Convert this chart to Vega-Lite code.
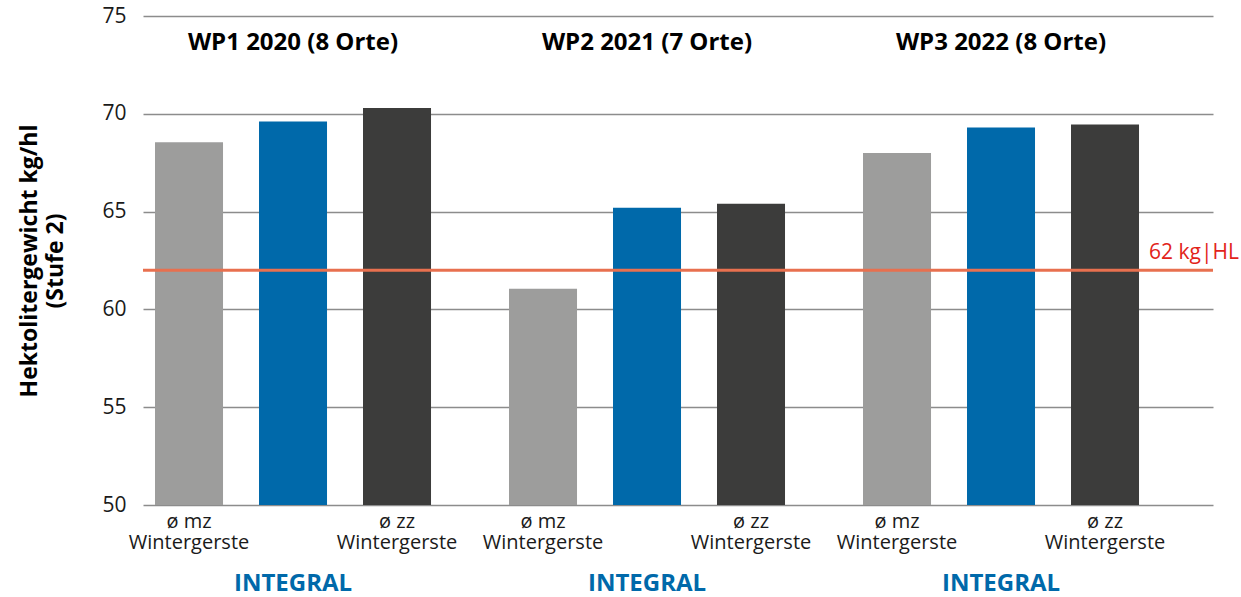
{
  "$schema": "https://vega.github.io/schema/vega-lite/v6.json",
  "width": 1070,
  "height": 489,
  "autosize": {"type": "none"},
  "padding": {"left": 143, "top": 16, "right": 28, "bottom": 92},
  "background": "white",
  "config": {
    "font": "Open Sans",
    "view": {"stroke": null}
  },
  "data": {
    "values": [
      {"group": "WP1 2020 (8 Orte)", "series": "mz", "value": 68.55, "label": "ø mz\nWintergerste"},
      {"group": "WP1 2020 (8 Orte)", "series": "INTEGRAL", "value": 69.6, "label": "INTEGRAL"},
      {"group": "WP1 2020 (8 Orte)", "series": "zz", "value": 70.3, "label": "ø zz\nWintergerste"},
      {"group": "WP2 2021 (7 Orte)", "series": "mz", "value": 61.05, "label": "ø mz\nWintergerste"},
      {"group": "WP2 2021 (7 Orte)", "series": "INTEGRAL", "value": 65.2, "label": "INTEGRAL"},
      {"group": "WP2 2021 (7 Orte)", "series": "zz", "value": 65.4, "label": "ø zz\nWintergerste"},
      {"group": "WP3 2022 (8 Orte)", "series": "mz", "value": 68.0, "label": "ø mz\nWintergerste"},
      {"group": "WP3 2022 (8 Orte)", "series": "INTEGRAL", "value": 69.3, "label": "INTEGRAL"},
      {"group": "WP3 2022 (8 Orte)", "series": "zz", "value": 69.45, "label": "ø zz\nWintergerste"}
    ]
  },
  "encoding": {
    "x": {
      "field": "group",
      "type": "nominal",
      "sort": null,
      "axis": null,
      "scale": {"paddingInner": 0, "paddingOuter": 0.0113, "align": 0}
    },
    "xOffset": {
      "field": "series",
      "type": "nominal",
      "scale": {"domain": ["mz", "INTEGRAL", "zz"], "paddingInner": 0.346, "paddingOuter": 0.375, "align": 0.154}
    }
  },
  "layer": [
    {
      "mark": {"type": "bar"},
      "encoding": {
        "y": {
          "field": "value",
          "type": "quantitative",
          "scale": {"domain": [50, 75], "zero": false, "nice": false},
          "axis": {
            "values": [50, 55, 60, 65, 70, 75],
            "title": ["Hektolitergewicht kg/hl", "(Stufe 2)"],
            "titleFont": "Open Sans",
            "titleFontSize": 23,
            "titleFontWeight": "bold",
            "titleColor": "#000000",
            "titlePadding": 34,
            "titleLineHeight": 26,
            "labelFont": "Open Sans",
            "labelFontSize": 21,
            "labelColor": "#1a1a1a",
            "labelPadding": 17,
            "domain": false,
            "ticks": false,
            "grid": true,
            "gridColor": "#8c8c8c",
            "gridWidth": 1.5
          }
        },
        "y2": {"datum": 50},
        "color": {
          "field": "series",
          "type": "nominal",
          "scale": {"domain": ["mz", "INTEGRAL", "zz"], "range": ["#9d9d9c", "#0069aa", "#3c3c3b"]},
          "legend": null
        }
      }
    },
    {
      "data": {"values": [{"ref": 62, "text": "62 kg|HL"}]},
      "mark": {"type": "rule", "color": "#e8704f", "strokeWidth": 3},
      "encoding": {"y": {"field": "ref", "type": "quantitative"}, "xOffset": null, "x": null}
    },
    {
      "data": {"values": [{"ref": 62, "text": "62 kg|HL"}]},
      "mark": {"type": "text", "align": "right", "baseline": "alphabetic", "dy": -11, "dx": 26, "fontSize": 21, "fontWeight": "normal", "color": "#e2231a", "font": "Open Sans"},
      "encoding": {"x": {"value": "width"}, "xOffset": null, "y": {"field": "ref", "type": "quantitative"}, "text": {"field": "text"}}
    },
    {
      "transform": [{"filter": "datum.series === 'INTEGRAL'"}],
      "mark": {"type": "text", "align": "center", "baseline": "alphabetic", "dy": 34, "fontSize": 24, "fontWeight": "bold", "color": "#000000", "font": "Open Sans"},
      "encoding": {"y": {"datum": 75}, "text": {"field": "group"}}
    },
    {
      "transform": [{"filter": "datum.series !== 'INTEGRAL'"}],
      "mark": {"type": "text", "align": "center", "baseline": "alphabetic", "dy": 23, "fontSize": 20, "lineHeight": 21, "lineBreak": "\n", "fontWeight": "normal", "color": "#1a1a1a", "font": "Open Sans"},
      "encoding": {"y": {"datum": 50}, "text": {"field": "label"}}
    },
    {
      "transform": [{"filter": "datum.series === 'INTEGRAL'"}],
      "mark": {"type": "text", "align": "center", "baseline": "alphabetic", "dy": 86, "fontSize": 24, "fontWeight": "bold", "color": "#0069aa", "font": "Open Sans"},
      "encoding": {"y": {"datum": 50}, "text": {"field": "label"}}
    }
  ]
}
